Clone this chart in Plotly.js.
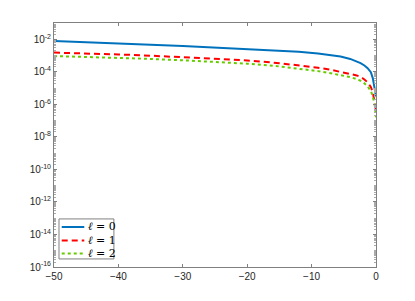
<!DOCTYPE html>
<html><head><meta charset="utf-8">
<script src="https://cdn.plot.ly/plotly-3.0.1.min.js"></script>
<style>html,body{margin:0;padding:0;background:#fff;}#chart{width:415px;height:301px;}</style>
</head><body><div id="chart"></div>
<script>
const xVals = [-50,-45,-40,-35,-30,-25,-20,-15,-12,-9,-7,-5.5,-4,-3,-2.4,-1.8,-1.3,-0.8,-0.5,-0.2,-0.05,0];
const yL0 = [7.85e-3,6.76e-3,5.62e-3,4.68e-3,3.89e-3,3.16e-3,2.51e-3,2.0e-3,1.68e-3,1.35e-3,1.09e-3,8.7e-4,6.2e-4,4.5e-4,3.44e-4,2.44e-4,1.67e-4,9.4e-5,4.1e-5,8.9e-6,3.8e-6,3.0e-6];
const yL1 = [1.51e-3,1.38e-3,1.17e-3,9.8e-4,8.1e-4,6.5e-4,5.0e-4,3.39e-4,2.57e-4,1.78e-4,1.32e-4,1.02e-4,7.8e-5,6.0e-5,4.8e-5,3.39e-5,2.24e-5,1.17e-5,5.6e-6,1.66e-6,5.6e-7,4.0e-7];
const yL2 = [9.3e-4,8.3e-4,7.2e-4,6.2e-4,5.1e-4,4.2e-4,3.16e-4,2.14e-4,1.58e-4,1.10e-4,8.1e-5,6.3e-5,4.7e-5,3.55e-5,2.82e-5,1.95e-5,1.26e-5,6.6e-6,3.16e-6,8.9e-7,2.5e-7,1.58e-7];
const seriesNames = ['<i>ℓ</i> = 0','<i>ℓ</i> = 1','<i>ℓ</i> = 2'];
const xTicks = [-50,-40,-30,-20,-10,0];
const yLabelExps = [-16,-14,-12,-10,-8,-6,-4,-2];
const yDecades = [-16,-15,-14,-13,-12,-11,-10,-9,-8,-7,-6,-5,-4,-3,-2];

const yTickVals = yLabelExps.map(e => Math.pow(10, e));
const yTickText = yLabelExps.map(e => '10<sup>' + e + '</sup>');
const yMinorVals = [];
yDecades.forEach(e => { for (let k = 1; k <= 9; k++) { if (!(k === 1 && e % 2 === 0)) yMinorVals.push(k * Math.pow(10, e)); } });

const axisColor = '#808080';
const colors = ['#0072BD', '#FF0000', '#66CC00'];
const dashes = ['solid', '6px,4px', 'dot'];
const ys = [yL0, yL1, yL2];
const traces = ys.map((y, i) => ({x: xVals, y: y, name: seriesNames[i], mode: 'lines', showlegend: false,
  line: {color: colors[i], width: 2, dash: dashes[i]}}));

// custom legend (box, line samples, labels)
const rowY = [0.164, 0.109, 0.055];
const shapes = [{type: 'rect', xref: 'paper', yref: 'paper', x0: 0.0155, x1: 0.186, y0: 0.033, y1: 0.197,
  line: {color: axisColor, width: 1}, fillcolor: '#fff', layer: 'above'}];
const annotations = [];
rowY.forEach((yy, i) => {
  shapes.push({type: 'line', xref: 'paper', yref: 'paper', x0: 0.024, x1: 0.094, y0: yy, y1: yy,
    line: {color: colors[i], width: 2, dash: dashes[i]}, layer: 'above'});
  annotations.push({xref: 'paper', yref: 'paper', x: 0.099, y: yy, xanchor: 'left', yanchor: 'middle',
    text: seriesNames[i], showarrow: false, font: {family: 'DejaVu Serif, serif', size: 11, color: '#000'}});
});

const layout = {
  width: 415, height: 301,
  margin: {l: 54, r: 39, t: 23, b: 34},
  paper_bgcolor: '#fff', plot_bgcolor: '#fff',
  font: {family: 'Liberation Sans, Arial, sans-serif', size: 10, color: '#262626'},
  showlegend: false,
  shapes: shapes, annotations: annotations,
  xaxis: {range: [-50, 0], tickvals: xTicks, ticks: 'inside', ticklen: 3, tickcolor: axisColor,
          showline: true, linecolor: axisColor, linewidth: 1, mirror: 'ticks', showgrid: false, zeroline: false},
  yaxis: {type: 'log', range: [-16, -1], tickmode: 'array', tickvals: yTickVals, ticktext: yTickText,
          ticks: 'inside', ticklen: 3, tickcolor: axisColor,
          minor: {tickmode: 'array', tickvals: yMinorVals, ticks: 'inside', ticklen: 2, tickcolor: '#aaa', showgrid: false},
          showline: true, linecolor: axisColor, linewidth: 1, mirror: 'ticks', showgrid: false, zeroline: false}
};
Plotly.newPlot('chart', traces, layout, {displayModeBar: false, staticPlot: true});
</script></body></html>
